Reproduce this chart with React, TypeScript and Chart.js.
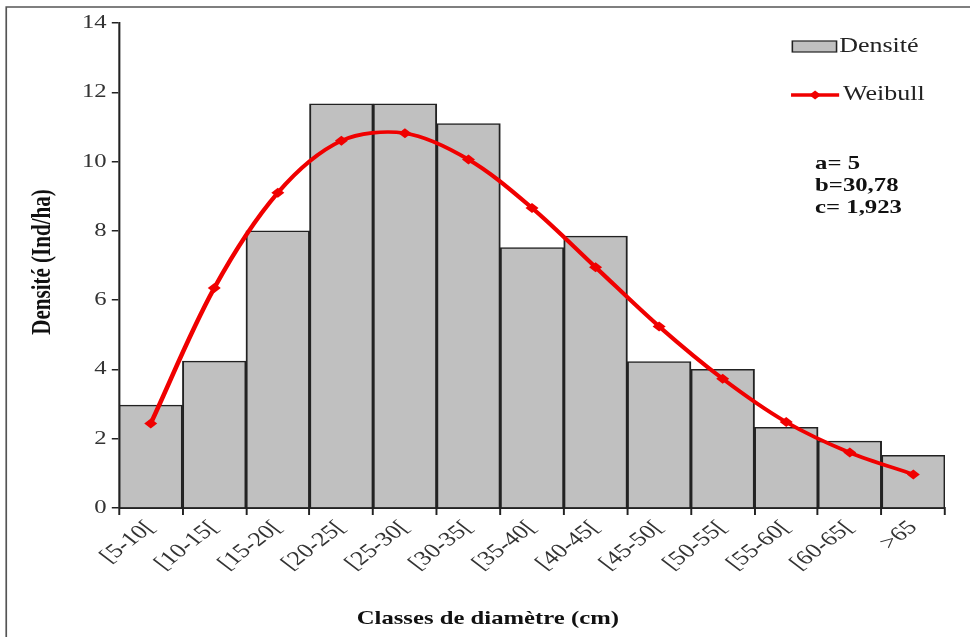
import React, { useEffect, useRef } from "react";
import { Chart, registerables } from "chart.js";

Chart.register(...registerables);

const categories = ["[5-10[", "[10-15[", "[15-20[", "[20-25[", "[25-30[", "[30-35[", "[35-40[", "[40-45[", "[45-50[", "[50-55[", "[55-60[", "[60-65[", ">65"];
const densite = [2.97, 4.24, 8.0, 11.67, 11.67, 11.1, 7.52, 7.85, 4.23, 4.0, 2.33, 1.93, 1.52];
const weibull = [2.44, 6.35, 9.1, 10.6, 10.82, 10.06, 8.66, 6.95, 5.24, 3.73, 2.48, 1.6, 0.97];
const yTicks = [0, 2, 4, 6, 8, 10, 12, 14];
const params = ["a= 5", "b=30,78", "c= 1,923"];
const xTitle = "Classes de diamètre (cm)";
const yTitle = "Densité (Ind/ha)";

const SERIF = "'Liberation Serif', 'Times New Roman', serif";
const RED = "#f00000";
// the reference picture is stretched horizontally
const SX = 1.3;
const OUT_W = 970;
const OUT_H = 637;
const W = Math.round(OUT_W / SX);

const decorPlugin = {
  id: "decor",
  afterDraw(chart: any) {
    const ctx = chart.ctx;
    const area = chart.chartArea;
    ctx.save();
    // frame (left + top)
    ctx.strokeStyle = "#555";
    ctx.lineWidth = 1.3;
    ctx.beginPath();
    ctx.moveTo(4.8, OUT_H);
    ctx.lineTo(4.8, 7);
    ctx.lineTo(W + 2, 7);
    ctx.stroke();

    // axis titles
    ctx.fillStyle = "#111";
    ctx.textAlign = "center";
    ctx.textBaseline = "middle";
    ctx.font = `bold 19px ${SERIF}`;
    ctx.fillText(xTitle, (area.left + area.right) / 2 - 34, 619);
    ctx.save();
    ctx.translate(33.3, 262);
    ctx.rotate(-Math.PI / 2);
    ctx.font = `bold 21px ${SERIF}`;
    ctx.fillText(yTitle, 0, 0);
    ctx.restore();

    // legend
    const lx = 609.5;
    ctx.fillStyle = "#c0c0c0";
    ctx.fillRect(lx, 41, 34, 11);
    ctx.strokeStyle = "#222";
    ctx.lineWidth = 1.2;
    ctx.strokeRect(lx, 41, 34, 11);
    ctx.fillStyle = "#222";
    ctx.font = `20px ${SERIF}`;
    ctx.textAlign = "left";
    ctx.textBaseline = "middle";
    ctx.fillText(chart.data.datasets[0].label, lx + 36, 47);

    ctx.strokeStyle = RED;
    ctx.lineWidth = 3.5;
    ctx.beginPath();
    ctx.moveTo(lx - 1, 95);
    ctx.lineTo(lx + 36, 95);
    ctx.stroke();
    ctx.fillStyle = RED;
    ctx.beginPath();
    ctx.moveTo(lx + 17.5, 90.5);
    ctx.lineTo(lx + 22, 95);
    ctx.lineTo(lx + 17.5, 99.5);
    ctx.lineTo(lx + 13, 95);
    ctx.closePath();
    ctx.fill();
    ctx.fillStyle = "#222";
    ctx.fillText(chart.data.datasets[1].label, lx + 39, 95);

    // parameters
    ctx.fillStyle = "#111";
    ctx.font = `bold 19px ${SERIF}`;
    params.forEach((p, i) => ctx.fillText(p, 627, 164.5 + i * 21.7));
    ctx.restore();
  },
};

export default function App() {
  const ref = useRef<HTMLCanvasElement | null>(null);
  useEffect(() => {
    const canvas = ref.current;
    if (!canvas) return;
    const chart = new Chart(canvas, {
      type: "bar",
      data: {
        labels: categories,
        datasets: [
          {
            type: "bar",
            label: "Densité",
            data: densite,
            backgroundColor: "#c0c0c0",
            borderColor: "#222",
            borderWidth: 1.5,
            barPercentage: 1,
            categoryPercentage: 1,
            order: 1,
          },
          {
            type: "line",
            label: "Weibull",
            data: weibull,
            borderColor: RED,
            backgroundColor: RED,
            borderWidth: 3.6,
            pointStyle: "rectRot",
            pointRadius: 5,
            pointBorderWidth: 0,
            tension: 0.33,
            order: 0,
          },
        ] as any,
      },
      options: {
        responsive: false,
        animation: false,
        devicePixelRatio: 1,
        layout: { padding: { left: 0, top: 23, right: W - 727, bottom: 0 } },
        plugins: { legend: { display: false }, tooltip: { enabled: false } },
        events: [],
        scales: {
          x: {
            offset: true,
            grid: { offset: true, drawOnChartArea: false, drawTicks: true, tickLength: 7, color: "#222", lineWidth: 1.5 },
            border: { display: true, color: "#222", width: 2 },
            ticks: {
              minRotation: 45,
              maxRotation: 45,
              autoSkip: false,
              color: "#333",
              padding: 1,
              font: { family: SERIF, size: 20 },
            },
            afterFit: (s: any) => {
              s.height = 129;
            },
          },
          y: {
            min: 0,
            max: 14,
            afterBuildTicks: (s: any) => {
              s.ticks = yTicks.map((v) => ({ value: v }));
            },
            grid: { drawOnChartArea: false, drawTicks: true, tickLength: 5.5, color: "#222", lineWidth: 1.5 },
            border: { display: true, color: "#222", width: 1.6 },
            ticks: {
              color: "#333",
              padding: 4,
              font: { family: SERIF, size: 19 },
            },
            afterFit: (s: any) => {
              s.width = 91.5;
            },
          },
        },
      },
      plugins: [decorPlugin],
    });
    // redraw onto a full-size bitmap with the horizontal stretch of the reference
    canvas.width = OUT_W;
    canvas.height = OUT_H;
    chart.ctx.setTransform(SX, 0, 0, 1, 0, 0);
    chart.draw();
    return () => chart.destroy();
  }, []);
  return (
    <div style={{ position: "absolute", left: 0, top: 0, width: OUT_W, height: OUT_H, background: "#fff" }}>
      <canvas ref={ref} width={W} height={OUT_H} style={{ width: OUT_W, height: OUT_H, display: "block" }} />
    </div>
  );
}
